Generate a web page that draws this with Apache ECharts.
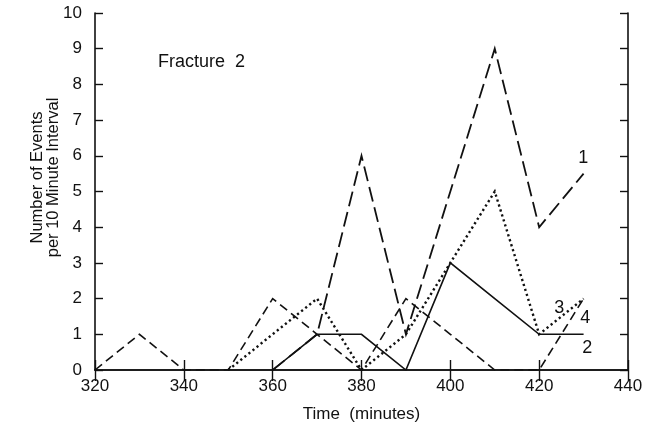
<!DOCTYPE html>
<html>
<head>
<meta charset="utf-8">
<script src="https://cdn.jsdelivr.net/npm/echarts@6/dist/echarts.min.js"></script>
<style>
  html, body { margin: 0; padding: 0; background: #fff; }
  #chart { width: 655px; height: 430px; }
</style>
</head>
<body>
<div id="chart"></div>
<script>
// Event counts per 10-minute interval, Fracture 2
const times   = [320, 330, 340, 350, 360, 370, 380, 390, 400, 410, 420, 430];
const series1 = [null, null, null, null, 0, 1, 6, 1, 5, 9, 4, 5.5];
const series2 = [null, null, null, null, 0, 1, 1, 0, 3, 2, 1, 1];
const series3 = [null, null, null, 0, 1, 2, 0, 1, 3, 5, 1, 2];
const series4 = [0, 1, 0, 0, 2, 1, 0, 2, 1, 0, 0, 2];
const seriesNames = ['1', '2', '3', '4'];

// where each series number sits, in data units
const nameSpots = [[429.9, 5.93], [430.8, 0.61], [424.5, 1.73], [430.4, 1.45]];

const FONT = 'Liberation Sans, Arial, Helvetica, sans-serif';
const INK = '#111';

function pairs(vals) {
  return times.map((t, i) => [t, vals[i]]);
}

const styles = [
  { type: [15, 6], width: 1.8 },
  { type: 'solid', width: 1.6 },
  { type: [2.2, 3], width: 2.4, cap: 'butt' },
  { type: [9, 5], width: 1.6 }
];

const allValues = [series1, series2, series3, series4];

const chart = echarts.init(document.getElementById('chart'), null, { renderer: 'canvas' });

function axis(extra, tickLen) {
  return Object.assign({
    type: 'value',
    axisLine: { show: true, lineStyle: { color: INK, width: 1.6 } },
    axisTick: { show: true, inside: true, length: tickLen, lineStyle: { color: INK, width: 1.4 } },
    splitLine: { show: false }
  }, extra);
}

const labelFont = { color: INK, fontFamily: FONT, fontSize: 17 };

const fracture = {
  type: 'text',
  left: 158, top: 53,
  style: { text: 'Fracture  2', fill: INK, font: '18px ' + FONT }
};

chart.setOption({
  animation: false,
  backgroundColor: '#fff',
  grid: { left: 95, right: 27, top: 13, bottom: 60 },
  xAxis: [
    axis({
      position: 'bottom', min: 320, max: 440, interval: 20,
      axisLabel: Object.assign({ margin: 8 }, labelFont),
      name: 'Time  (minutes)', nameLocation: 'middle', nameGap: 36,
      nameMoveOverlap: false,
      nameTextStyle: { color: INK, fontFamily: FONT, fontSize: 17 }
    }, 10),
    axis({
      position: 'top', min: 320, max: 440, interval: 20,
      axisLabel: { show: false }
    }, 11)
  ],
  yAxis: [
    axis({
      position: 'left', min: 0, max: 10, interval: 1,
      axisLabel: Object.assign({ margin: 13 }, labelFont),
      name: 'Number of Events\nper 10 Minute Interval',
      nameLocation: 'middle', nameGap: 34,
      nameMoveOverlap: false,
      nameTextStyle: { color: INK, fontFamily: FONT, fontSize: 16.5, lineHeight: 16, padding: [0, 0, 0, 28] }
    }, 8),
    axis({
      position: 'right', min: 0, max: 10, interval: 1,
      axisLabel: { show: false }
    }, 8)
  ],
  series: allValues.map((vals, i) => ({
    name: seriesNames[i],
    type: 'line',
    data: pairs(vals),
    showSymbol: false,
    symbol: 'none',
    connectNulls: false,
    z: 3,
    lineStyle: Object.assign({ color: INK, join: 'miter' }, styles[i])
  })),
  graphic: [fracture]
});

// series numbers placed through the axes' own scales
const tags = nameSpots.map((p, i) => {
  const px = chart.convertToPixel({ gridIndex: 0 }, p);
  return {
    type: 'text',
    x: px[0], y: px[1],
    style: {
      text: seriesNames[i], fill: INK, font: '18px ' + FONT,
      textAlign: 'center', textVerticalAlign: 'middle'
    }
  };
});
chart.setOption({ graphic: [fracture].concat(tags) });
</script>
</body>
</html>
